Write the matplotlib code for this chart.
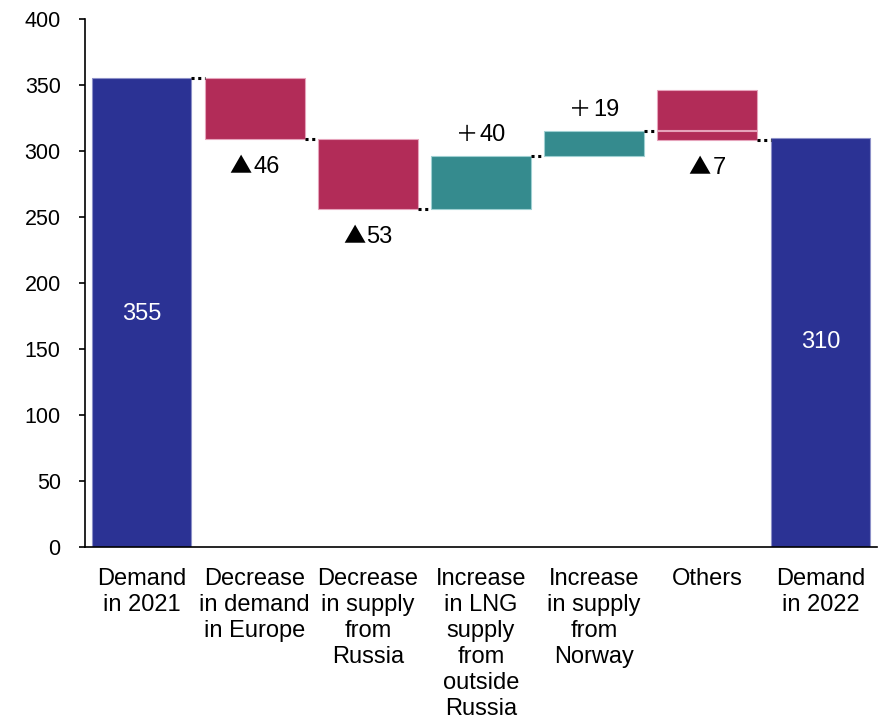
import numpy as np
import matplotlib
matplotlib.use("Agg")
import matplotlib.pyplot as plt
from matplotlib.offsetbox import TextArea, HPacker, AnnotationBbox

plt.rcParams["font.family"] = ["Liberation Sans", "Noto Sans CJK JP", "DejaVu Sans"]

categories = [
    "Demand\nin 2021",
    "Decrease\nin demand\nin Europe",
    "Decrease\nin supply\nfrom\nRussia",
    "Increase\nin LNG\nsupply\nfrom\noutside\nRussia",
    "Increase\nin supply\nfrom\nNorway",
    "Others",
    "Demand\nin 2022",
]
start_value = 355
changes = [-46, -53, 40, 19, -7]
end_value = 310
# extra block stacked on top of the "Others" step
others_upper = 30

NAVY = "#2B3294"
PINK = "#B22C58"
TEAL = "#358B8E"
FS = 16

fig = plt.figure(figsize=(8.84, 7.25), dpi=100)
ax = fig.add_axes([0.0962, 0.2455, 0.8958, 0.7283])

x = np.arange(len(categories))
width = 0.88


def change_label(xi, y, value, below):
    """Sign symbol (CJK font) followed by the number (Arial-like font)."""
    sym = "▲" if value < 0 else "＋"
    parts = [
        TextArea(sym, textprops=dict(fontsize=FS, family=["Noto Sans CJK JP"])),
        TextArea(str(abs(value)), textprops=dict(fontsize=17, family=["Liberation Sans"])),
    ]
    box = HPacker(children=parts, pad=0, sep=1, align="baseline")
    ab = AnnotationBbox(box, (xi, y), frameon=False, pad=0,
                        box_alignment=(0.5, 1.0 if below else 0.0))
    ax.add_artist(ab)


# totals
ax.bar(x[0], start_value, width, color=NAVY, edgecolor="#8c90c8", linewidth=0.8)
ax.bar(x[-1], end_value, width, color=NAVY, edgecolor="#8c90c8", linewidth=0.8)
ax.text(x[0], start_value * 0.5 - 1, str(start_value), color="white", ha="center", va="center", fontsize=17)
ax.text(x[-1], end_value * 0.5, str(end_value), color="white", ha="center", va="center", fontsize=17)

levels = [start_value]
for i, ch in enumerate(changes):
    prev = levels[-1]
    cur = prev + ch
    levels.append(cur)
    xi = x[i + 1]
    color = PINK if ch < 0 else TEAL
    edge = "#e6a3bb" if ch < 0 else "#9fd0d2"
    ax.bar(xi, abs(ch), width, bottom=min(prev, cur), color=color, edgecolor=edge, linewidth=0.8)
    if categories[i + 1] == "Others":
        ax.bar(xi, others_upper, width, bottom=max(prev, cur) + 1.2, color=color,
               edgecolor=edge, linewidth=0.8)
    if ch < 0:
        change_label(xi, min(prev, cur) - 12, ch, below=True)
    else:
        change_label(xi, max(prev, cur) + 8, ch, below=False)

# dotted connectors between neighbouring bars
conn_levels = levels + [end_value]
for i in range(len(categories) - 1):
    y = conn_levels[i]
    ax.plot([x[i] + width / 2, x[i + 1] - width / 2], [y, y], color="black",
            linestyle=(0, (1, 1.2)), linewidth=2.2, solid_capstyle="butt")

ax.set_xlim(-0.5, len(categories) - 0.5)
ax.set_ylim(0, 400)
ax.set_yticks(np.arange(0, 401, 50))
ax.set_xticks(x)
ax.set_xticklabels(categories, fontsize=17, linespacing=1.24, va="top")
ax.tick_params(axis="x", length=0, pad=15)
ax.tick_params(axis="y", labelsize=15.5, direction="out", length=4.5, width=1.2, pad=13)
for side in ("top", "right"):
    ax.spines[side].set_visible(False)
for side in ("left", "bottom"):
    ax.spines[side].set_linewidth(1.2)

fig.savefig("out.png", dpi=100)
